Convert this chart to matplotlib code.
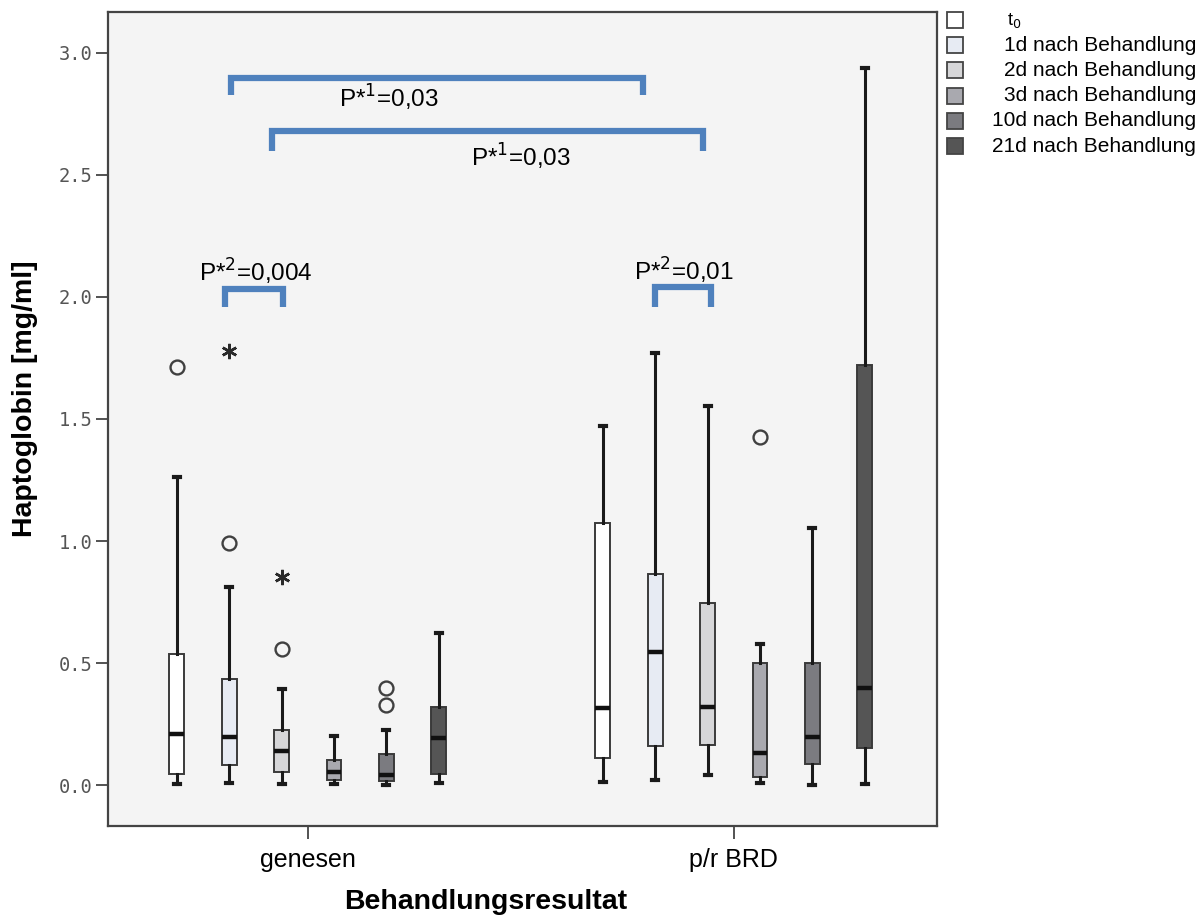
import matplotlib
matplotlib.use("Agg")
import matplotlib.pyplot as plt
from matplotlib.patches import Rectangle

plt.rcParams['font.family'] = ['Liberation Sans', 'DejaVu Sans']

# Groups and time points
groups = ["genesen", "p/r BRD"]
timepoints = ["t$_0$", "1d nach Behandlung", "2d nach Behandlung",
              "3d nach Behandlung", "10d nach Behandlung", "21d nach Behandlung"]
box_colors = ["#FFFFFF", "#E7EBF3", "#D6D6D8", "#A9A9AF", "#7B7B80", "#555555"]

# Box statistics per group: whisker low, Q1, median, Q3, whisker high
genesen_whislo = [0.004, 0.007, 0.004, 0.004, 0.000, 0.010]
genesen_q1 = [0.044, 0.082, 0.055, 0.020, 0.018, 0.044]
genesen_med = [0.209, 0.195, 0.141, 0.055, 0.041, 0.194]
genesen_q3 = [0.537, 0.434, 0.225, 0.102, 0.127, 0.321]
genesen_whishi = [1.263, 0.810, 0.392, 0.201, 0.225, 0.622]
genesen_circles = [[1.712], [0.990], [0.557], [], [0.396, 0.328], []]
genesen_stars = [[], [1.780], [0.854], [], [], []]

brd_whislo = [0.014, 0.020, 0.041, 0.007, 0.000, 0.004]
brd_q1 = [0.112, 0.160, 0.164, 0.034, 0.086, 0.150]
brd_med = [0.314, 0.546, 0.321, 0.132, 0.198, 0.399]
brd_q3 = [1.075, 0.863, 0.745, 0.499, 0.499, 1.721]
brd_whishi = [1.471, 1.772, 1.553, 0.577, 1.055, 2.939]
brd_circles = [[], [], [], [1.428], [], []]
brd_stars = [[], [], [], [], [], []]

# Significance brackets: x left, x right, y top, leg length; labels: text, x, y
brackets = [(-0.181, 0.786, 2.898, 0.070),
            (-0.085, 0.927, 2.680, 0.082),
            (-0.195, -0.059, 2.033, 0.074),
            (0.815, 0.946, 2.041, 0.082)]
bracket_labels = [("P*$^{1}$=0,03", 0.190, 2.816),
                  ("P*$^{1}$=0,03", 0.500, 2.574),
                  ("P*$^{2}$=0,004", -0.122, 2.102),
                  ("P*$^{2}$=0,01", 0.883, 2.107)]

fig = plt.figure(figsize=(12.03, 9.17), dpi=100)
ax = fig.add_axes([108 / 1203, 91 / 917, 829 / 1203, 814 / 917])
ax.set_facecolor("#F4F4F4")

step = 0.123
width = 0.035
group_data = [
    (genesen_whislo, genesen_q1, genesen_med, genesen_q3, genesen_whishi,
     genesen_circles, genesen_stars),
    (brd_whislo, brd_q1, brd_med, brd_q3, brd_whishi, brd_circles, brd_stars),
]

for gi, (wlo, q1, med, q3, whi, circ, stars) in enumerate(group_data):
    for ti in range(len(timepoints)):
        pos = gi + (ti - 2.5) * step
        stats = [dict(whislo=wlo[ti], q1=q1[ti], med=med[ti], q3=q3[ti],
                      whishi=whi[ti], fliers=[])]
        ax.bxp(stats, positions=[pos], widths=width, patch_artist=True,
               showfliers=False, manage_ticks=False,
               boxprops=dict(facecolor=box_colors[ti], edgecolor="#3A3A3A", linewidth=1.4),
               medianprops=dict(color="#111111", linewidth=3.2, solid_capstyle="butt"),
               whiskerprops=dict(color="#1A1A1A", linewidth=2.2),
               capprops=dict(color="#1A1A1A", linewidth=3.0),
               capwidths=width * 0.4)
        if circ[ti]:
            ax.plot([pos] * len(circ[ti]), circ[ti], linestyle="none", marker="o",
                    markersize=10, markerfacecolor="none",
                    markeredgecolor="#404040", markeredgewidth=1.7)
        if stars[ti]:
            ax.plot([pos] * len(stars[ti]), stars[ti], linestyle="none",
                    marker=(6, 2, 0), markersize=11, color="#2A2A2A",
                    markeredgewidth=1.8)

# Significance annotations
for (xl, xr, yt, leg) in brackets:
    ax.plot([xl, xl, xr, xr], [yt - leg, yt, yt, yt - leg], color="#4F81BD",
            linewidth=4.5, solid_joinstyle="miter", solid_capstyle="butt")
for (txt, x, y) in bracket_labels:
    ax.text(x, y, txt, ha="center", va="center", fontsize=17.5, color="#000000")

ax.set_xlim(-0.469, 1.477)
ax.set_ylim(-0.168, 3.168)
ax.set_xticks([0, 1])
ax.set_xticklabels(groups, fontsize=18)
ax.set_yticks([0.0, 0.5, 1.0, 1.5, 2.0, 2.5, 3.0])
ax.set_yticklabels(["0.0", "0.5", "1.0", "1.5", "2.0", "2.5", "3.0"],
                   fontsize=13.5, color="#555555", family="DejaVu Sans Mono")
ax.tick_params(axis="y", direction="out", length=9, width=1.3, color="#444444", pad=2)
ax.tick_params(axis="x", direction="out", length=9, width=1.3, color="#444444", pad=7)
for sp in ax.spines.values():
    sp.set_color("#444444")
    sp.set_linewidth(1.6)

ax.set_ylabel("Haptoglobin [mg/ml]", fontsize=20.5, fontweight="bold")
ax.yaxis.set_label_coords(-0.085, 0.525)
ax.set_xlabel("Behandlungsresultat", fontsize=20.5, fontweight="bold")
ax.xaxis.set_label_coords(0.456, -0.078)

# Legend drawn as coloured squares with labels
for i, (lab, col) in enumerate(zip(timepoints, box_colors)):
    yc = 917 - (20 + 25.2 * i)
    fig.patches.append(Rectangle((947 / 1203, (yc - 8) / 917), 16 / 1203, 16 / 917,
                                 transform=fig.transFigure, facecolor=col,
                                 edgecolor="#444444", linewidth=1.3))
    if i == 0:
        fig.text(1007 / 1203, yc / 917, lab, ha="left", va="center", fontsize=13)
    else:
        fig.text(1196 / 1203, yc / 917, lab, ha="right", va="center", fontsize=15)

fig.savefig("out.png", dpi=100, facecolor="white")
